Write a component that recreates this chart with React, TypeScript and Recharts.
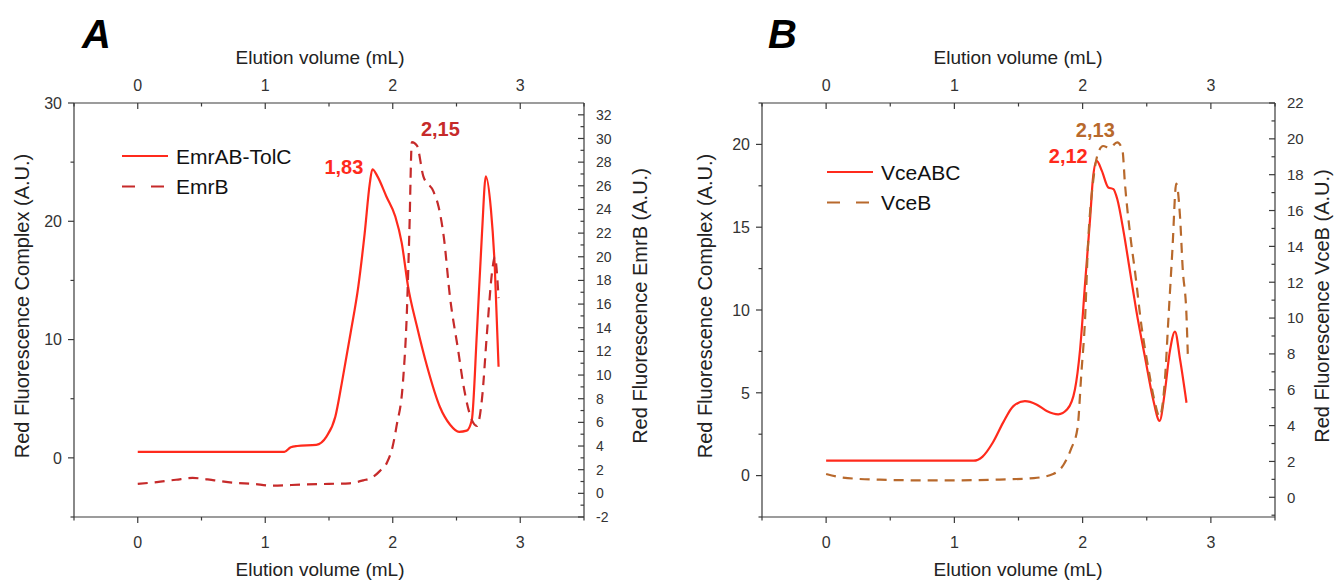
import React from 'react';
import { LineChart, Line, XAxis, YAxis, ReferenceDot, Legend } from 'recharts';

// ---- Panel A: EmrAB-TolC complex (left axis) vs EmrB alone (right axis)
const emrComplexX = [0, 0.2, 0.4, 0.6, 0.8, 1.0, 1.15, 1.2, 1.25, 1.4, 1.48, 1.55, 1.6, 1.67, 1.73, 1.78, 1.82, 1.84, 1.88, 1.95, 2.02, 2.07, 2.12, 2.19, 2.27, 2.37, 2.45, 2.52, 2.58, 2.62, 2.66, 2.7, 2.73, 2.77, 2.8, 2.83];
const emrComplexY = [0.5, 0.5, 0.5, 0.5, 0.5, 0.5, 0.5, 0.9, 1.0, 1.1, 1.8, 3.5, 6.3, 10.6, 14.5, 19.0, 23.2, 24.4, 23.8, 22.1, 20.4, 18.2, 14.5, 11.1, 7.7, 4.3, 2.8, 2.2, 2.3, 3.2, 10.6, 19.0, 23.8, 21.0, 16.2, 7.7];
const emrBX = [0, 0.15, 0.3, 0.43, 0.6, 0.75, 0.9, 1.06, 1.3, 1.5, 1.66, 1.77, 1.84, 1.9, 1.955, 2.0, 2.03, 2.08, 2.11, 2.13, 2.15, 2.19, 2.24, 2.32, 2.36, 2.4, 2.45, 2.51, 2.56, 2.61, 2.66, 2.7, 2.74, 2.78, 2.8, 2.83];
const emrBY = [0.8, 0.95, 1.15, 1.3, 1.1, 0.9, 0.8, 0.65, 0.75, 0.8, 0.85, 1.1, 1.35, 1.9, 2.6, 4.0, 5.7, 9.4, 15.1, 22.0, 29.7, 29.4, 26.8, 25.5, 24.2, 21.7, 16.5, 12.3, 8.8, 6.5, 5.7, 8.0, 13.7, 18.8, 20.0, 16.5];

// ---- Panel B: VceABC complex (left axis) vs VceB alone (right axis)
const vceABCX = [0, 0.2, 0.4, 0.6, 0.8, 1.0, 1.15, 1.22, 1.3, 1.38, 1.46, 1.55, 1.64, 1.72, 1.81, 1.88, 1.94, 1.98, 2.02, 2.06, 2.08, 2.11, 2.15, 2.2, 2.24, 2.27, 2.32, 2.37, 2.42, 2.49, 2.55, 2.6, 2.64, 2.68, 2.72, 2.76, 2.81];
const vceABCY = [0.9, 0.9, 0.9, 0.9, 0.9, 0.9, 0.9, 1.15, 2.0, 3.2, 4.2, 4.5, 4.3, 3.9, 3.7, 4.0, 5.2, 7.6, 11.7, 15.7, 17.9, 19.0, 18.4, 17.4, 17.3, 16.7, 14.7, 12.3, 9.9, 7.0, 4.6, 3.3, 5.0, 7.5, 8.7, 7.0, 4.4];
const vceBX = [0, 0.13, 0.42, 0.86, 1.3, 1.62, 1.77, 1.85, 1.91, 1.96, 1.99, 2.02, 2.04, 2.08, 2.12, 2.16, 2.21, 2.27, 2.31, 2.33, 2.37, 2.41, 2.46, 2.51, 2.56, 2.6, 2.64, 2.67, 2.7, 2.73, 2.76, 2.78, 2.81, 2.82];
const vceBY = [1.3, 1.1, 0.98, 0.94, 0.98, 1.07, 1.3, 1.8, 2.7, 3.85, 6.9, 10.1, 13.8, 17.5, 19.2, 19.6, 19.5, 19.8, 19.4, 17.5, 14.7, 12.5, 9.5, 7.3, 5.4, 4.5, 6.4, 10.1, 13.8, 17.5, 15.6, 12.8, 10.1, 8.0];

// axis ticks
const xTicks = [-0.5, 0, 0.5, 1, 1.5, 2, 2.5, 3, 3.5];
const leftTicksA = [-5, 0, 5, 10, 15, 20, 25, 30];
const rightTicksA = Array.from({ length: 35 }, (_, i) => i - 2);
const leftTicksB = [-2.5, 0, 2.5, 5, 7.5, 10, 12.5, 15, 17.5, 20, 22.5];
const rightTicksB = Array.from({ length: 24 }, (_, i) => i - 1);

const zip = (xs: number[], ys: number[]) => xs.map((x, i) => ({ x, y: ys[i] }));

const FONT = '"Liberation Sans", Arial, Helvetica, sans-serif';
const AXIS = '#3a3a3a';
const RED = '#ff2a1c';
const DARK_RED = '#c62a2a';
const BROWN = '#b8692c';
const H = 581;
const PLOT_TOP = 103;
const PLOT_BOTTOM = 517;
const X_TITLE = 'Elution volume (mL)';

type Side = 'top' | 'bottom' | 'left' | 'right';

const isMajor = (v: number, step: number) => Math.abs(v / step - Math.round(v / step)) < 1e-6;

// tick props x/y sit on the axis line (tickSize and tickMargin are 0)
function makeTick(side: Side, majorStep: number, fontSize: number) {
  return (props: any) => {
    const { x, y, payload } = props;
    const v = payload.value as number;
    const major = isMajor(v, majorStep);
    const len = major ? 6 : 3.5;
    let line;
    let label = null;
    const t = { fontSize, fill: '#333', fontFamily: FONT };
    if (side === 'bottom') {
      line = <line x1={x} x2={x} y1={y} y2={y + len} />;
      if (major) label = <text x={x} y={y + 31} textAnchor="middle" {...t}>{v}</text>;
    } else if (side === 'top') {
      line = <line x1={x} x2={x} y1={y} y2={y + len} />;
      if (major) label = <text x={x} y={y - 12} textAnchor="middle" {...t}>{v}</text>;
    } else if (side === 'left') {
      line = <line x1={x - len} x2={x} y1={y} y2={y} />;
      if (major) label = <text x={x - 12} y={y + fontSize * 0.36} textAnchor="end" {...t}>{v}</text>;
    } else {
      line = <line x1={x - len} x2={x} y1={y} y2={y} />;
      if (major) label = <text x={x + 12} y={y + fontSize * 0.36} textAnchor="start" {...t}>{v}</text>;
    }
    return (
      <g>
        <g stroke={AXIS} strokeWidth={1.2}>{line}</g>
        {label}
      </g>
    );
  };
}

const yTitle = (text: string, cx: number, cy: number) => () => (
  <text x={cx} y={cy} transform={`rotate(-90 ${cx} ${cy})`} textAnchor="middle" dominantBaseline="central"
    fontSize={20} fill="#222" fontFamily={FONT}>{text}</text>
);

const xTitle = (cx: number, y: number, letter?: string, letterX?: number) => () => (
  <g>
    <text x={cx} y={y} textAnchor="middle" fontSize={19} fill="#222" fontFamily={FONT}>{X_TITLE}</text>
    {letter && (
      <text x={letterX} y={48} fontSize={40} fontWeight="bold" fontStyle="italic" fill="#000" fontFamily={FONT}>{letter}</text>
    )}
  </g>
);

const peakLabel = (text: string, color: string, dx: number, dy: number, anchor: string) => (p: any) => {
  const vb = p.viewBox || { x: 0, y: 0 };
  return (
    <text x={vb.x + dx} y={vb.y + dy} textAnchor={anchor} fontSize={20} fontWeight="bold" fill={color} fontFamily={FONT}>{text}</text>
  );
};

interface Series { name: string; data: { x: number; y: number }[]; color: string; dash?: string; axis: 'left' | 'right' }
interface Peak { x: number; y: number; axis: 'left' | 'right'; text: string; color: string; dx: number; dy: number; anchor: string }

const LegendBox = ({ items }: { items: Series[] }) => (
  <svg width={240} height={64} style={{ display: 'block' }}>
    {items.map((it, i) => (
      <g key={it.name} transform={`translate(0, ${i * 30.5})`}>
        <line x1={2} x2={48} y1={14} y2={14} stroke={it.color} strokeWidth={2.2}
          strokeDasharray={it.dash ? '13 16' : undefined} />
        <text x={56} y={21.5} fontSize={21} fill="#111" fontFamily={FONT}>{it.name}</text>
      </g>
    ))}
  </svg>
);

interface PanelProps {
  letter: string; letterX: number; left: number; width: number;
  leftW: number; rightW: number;
  leftDomain: [number, number]; rightDomain: [number, number];
  leftTicks: number[]; rightTicks: number[]; leftMajor: number; rightMajor: number; rightFont: number;
  leftTitle: string; rightTitle: string; leftTitleX: number; rightTitleX: number; titleX: number;
  series: Series[]; peaks: Peak[]; legendLeft: number; legendTop: number;
}

const Panel = (p: PanelProps) => (
  <div style={{ position: 'absolute', left: p.left, top: 0 }}>
    <LineChart width={p.width} height={H} margin={{ top: 0, right: 0, bottom: 0, left: 0 }}>
      <XAxis xAxisId="bottom" dataKey="x" type="number" orientation="bottom" domain={[-0.5, 3.5]} allowDataOverflow
        ticks={xTicks} interval={0} height={H - PLOT_BOTTOM} tickSize={0} tickMargin={0} tickLine={false}
        stroke={AXIS} strokeWidth={1.2} tick={makeTick('bottom', 1, 16)} label={{ content: xTitle(p.titleX, 576) }} />
      <XAxis xAxisId="top" dataKey="x" type="number" orientation="top" domain={[-0.5, 3.5]} allowDataOverflow
        ticks={xTicks} interval={0} height={PLOT_TOP} tickSize={0} tickMargin={0} tickLine={false}
        stroke={AXIS} strokeWidth={1.2} tick={makeTick('top', 1, 16)} label={{ content: xTitle(p.titleX, 64, p.letter, p.letterX) }} />
      <YAxis yAxisId="left" orientation="left" type="number" domain={p.leftDomain} allowDataOverflow ticks={p.leftTicks}
        interval={0} width={p.leftW} tickSize={0} tickMargin={0} tickLine={false} stroke={AXIS} strokeWidth={1.2}
        tick={makeTick('left', p.leftMajor, 16)} label={{ content: yTitle(p.leftTitle, p.leftTitleX, 306) }} />
      <YAxis yAxisId="right" orientation="right" type="number" domain={p.rightDomain} allowDataOverflow ticks={p.rightTicks}
        interval={0} width={p.rightW} tickSize={0} tickMargin={0} tickLine={false} stroke={AXIS} strokeWidth={1.2}
        tick={makeTick('right', p.rightMajor, p.rightFont)} label={{ content: yTitle(p.rightTitle, p.rightTitleX, 306) }} />
      <Legend layout="vertical" align="center" verticalAlign="middle"
        wrapperStyle={{ left: p.legendLeft, top: p.legendTop, width: 240 }}
        content={() => <LegendBox items={p.series} />} />
      {p.series.map((s) => (
        <Line key={s.name} name={s.name} data={s.data} dataKey="y" xAxisId="bottom" yAxisId={s.axis}
          type="monotone" stroke={s.color} strokeWidth={2.2} strokeDasharray={s.dash} dot={false}
          activeDot={false} isAnimationActive={false} />
      ))}
      {p.peaks.map((k) => (
        <ReferenceDot key={k.text} xAxisId="bottom" yAxisId={k.axis} x={k.x} y={k.y} r={0}
          fill="none" stroke="none" label={{ content: peakLabel(k.text, k.color, k.dx, k.dy, k.anchor) }} />
      ))}
    </LineChart>
  </div>
);

const seriesA: Series[] = [
  { name: 'EmrAB-TolC', data: zip(emrComplexX, emrComplexY), color: RED, axis: 'left' },
  { name: 'EmrB', data: zip(emrBX, emrBY), color: DARK_RED, dash: '10 7', axis: 'right' },
];
const seriesB: Series[] = [
  { name: 'VceABC', data: zip(vceABCX, vceABCY), color: RED, axis: 'left' },
  { name: 'VceB', data: zip(vceBX, vceBY), color: BROWN, dash: '10 7', axis: 'right' },
];

const peaksA: Peak[] = [
  { x: 1.84, y: 24.4, axis: 'left', text: '1,83', color: RED, dx: -9, dy: 5, anchor: 'end' },
  { x: 2.15, y: 29.7, axis: 'right', text: '2,15', color: DARK_RED, dx: 9, dy: -6, anchor: 'start' },
];
const peaksB: Peak[] = [
  { x: 2.11, y: 19.0, axis: 'left', text: '2,12', color: RED, dx: -9, dy: 2, anchor: 'end' },
  { x: 2.13, y: 19.6, axis: 'right', text: '2,13', color: BROWN, dx: -4, dy: -9, anchor: 'middle' },
];

export default function App() {
  return (
    <div style={{ position: 'absolute', left: 0, top: 0, width: 1335, height: H, background: '#fff' }}>
      <Panel letter="A" letterX={82} left={0} width={667} leftW={74} rightW={83}
        leftDomain={[-5, 30]} rightDomain={[-2, 33]} leftTicks={leftTicksA} rightTicks={rightTicksA}
        leftMajor={10} rightMajor={2} rightFont={14}
        leftTitle="Red Fluorescence Complex (A.U.)" rightTitle="Red Fluorescence EmrB (A.U.)"
        leftTitleX={22} rightTitleX={640} titleX={320}
        series={seriesA} peaks={peaksA} legendLeft={120} legendTop={142} />
      <Panel letter="B" letterX={101} left={667} width={668} leftW={95} rightW={60}
        leftDomain={[-2.5, 22.5]} rightDomain={[-1.1, 22]} leftTicks={leftTicksB} rightTicks={rightTicksB}
        leftMajor={5} rightMajor={2} rightFont={15}
        leftTitle="Red Fluorescence Complex (A.U.)" rightTitle="Red Fluorescence VceB (A.U.)"
        leftTitleX={38} rightTitleX={655} titleX={351}
        series={seriesB} peaks={peaksB} legendLeft={158} legendTop={158} />
    </div>
  );
}
